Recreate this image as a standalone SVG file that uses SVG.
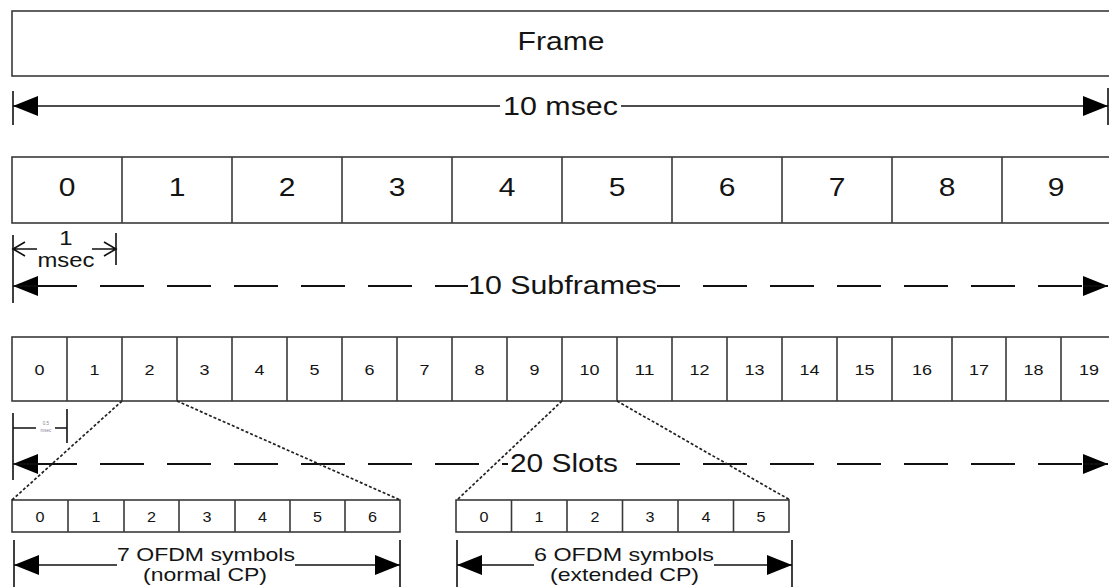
<svg xmlns="http://www.w3.org/2000/svg" width="1109" height="587" viewBox="0 0 1109 587">
  <style>
    text { font-family: "Liberation Sans", Arial, sans-serif; fill: #141414; text-anchor: middle; }
    .box { fill: #fff; stroke: #3a3a3a; stroke-width: 1.6; }
    .sep { stroke: #3a3a3a; stroke-width: 1.6; }
    .dim { stroke: #111; stroke-width: 1.6; fill: none; }
    .dash { stroke: #111; stroke-width: 2.2; fill: none; stroke-dasharray: 44 23; stroke-dashoffset: 47; }
    .dot { stroke: #222; stroke-width: 1.7; fill: none; stroke-dasharray: 3 2; }
    .big { font-size: 25px; }
    .mid { font-size: 19px; }
    .small { font-size: 15px; }
    .sym { font-size: 14px; }
    .tiny { font-size: 4.5px; fill: #8a7f99; }
  </style>
  <defs>
    <marker id="headEnd" viewBox="0 0 25 20" refX="25" refY="10" markerWidth="25" markerHeight="20" markerUnits="userSpaceOnUse" orient="auto">
      <path d="M0,0 L25,10 L0,20 Z" fill="#000"/>
    </marker>
    <marker id="headStart" viewBox="0 0 25 20" refX="0" refY="10" markerWidth="25" markerHeight="20" markerUnits="userSpaceOnUse" orient="auto">
      <path d="M25,0 L0,10 L25,20 Z" fill="#000"/>
    </marker>
  </defs>

  <!-- Frame -->
  <g id="frame">
    <rect class="box" x="12" y="11" width="1110" height="65"/>
    <text class="big" x="561" y="50" textLength="87" lengthAdjust="spacingAndGlyphs">Frame</text>
  </g>

  <!-- Subframes 0..9 -->
  <g id="subframes">
    <rect class="box" x="12" y="157" width="1110" height="66"/>
    <path class="sep" d="M122,157V223 M232,157V223 M342,157V223 M452,157V223 M562,157V223 M672,157V223 M782,157V223 M892,157V223 M1002,157V223"/>
    <g class="big">
      <text x="67" y="196" textLength="16.7" lengthAdjust="spacingAndGlyphs">0</text>
      <text x="177" y="196" textLength="16.7" lengthAdjust="spacingAndGlyphs">1</text>
      <text x="287" y="196" textLength="16.7" lengthAdjust="spacingAndGlyphs">2</text>
      <text x="397" y="196" textLength="16.7" lengthAdjust="spacingAndGlyphs">3</text>
      <text x="507" y="196" textLength="16.7" lengthAdjust="spacingAndGlyphs">4</text>
      <text x="617" y="196" textLength="16.7" lengthAdjust="spacingAndGlyphs">5</text>
      <text x="727" y="196" textLength="16.7" lengthAdjust="spacingAndGlyphs">6</text>
      <text x="837" y="196" textLength="16.7" lengthAdjust="spacingAndGlyphs">7</text>
      <text x="947" y="196" textLength="16.7" lengthAdjust="spacingAndGlyphs">8</text>
      <text x="1056" y="196" textLength="16.7" lengthAdjust="spacingAndGlyphs">9</text>
    </g>
  </g>

  <!-- Slots 0..19 -->
  <g id="slots">
    <rect class="box" x="12" y="337" width="1110" height="64"/>
    <path class="sep" d="M67,337V401 M122,337V401 M177,337V401 M232,337V401 M287,337V401 M342,337V401 M397,337V401 M452,337V401 M507,337V401 M562,337V401 M617,337V401 M672,337V401 M727,337V401 M782,337V401 M837,337V401 M892,337V401 M952,337V401 M1006,337V401 M1061,337V401"/>
    <g class="small">
      <text x="39.5" y="375" textLength="10" lengthAdjust="spacingAndGlyphs">0</text>
      <text x="94.5" y="375" textLength="10" lengthAdjust="spacingAndGlyphs">1</text>
      <text x="149.5" y="375" textLength="10" lengthAdjust="spacingAndGlyphs">2</text>
      <text x="204.5" y="375" textLength="10" lengthAdjust="spacingAndGlyphs">3</text>
      <text x="259.5" y="375" textLength="10" lengthAdjust="spacingAndGlyphs">4</text>
      <text x="314.5" y="375" textLength="10" lengthAdjust="spacingAndGlyphs">5</text>
      <text x="369.5" y="375" textLength="10" lengthAdjust="spacingAndGlyphs">6</text>
      <text x="424.5" y="375" textLength="10" lengthAdjust="spacingAndGlyphs">7</text>
      <text x="479.5" y="375" textLength="10" lengthAdjust="spacingAndGlyphs">8</text>
      <text x="534.5" y="375" textLength="10" lengthAdjust="spacingAndGlyphs">9</text>
      <text x="589.5" y="375" textLength="20" lengthAdjust="spacingAndGlyphs">10</text>
      <text x="644.5" y="375" textLength="20" lengthAdjust="spacingAndGlyphs">11</text>
      <text x="699.5" y="375" textLength="20" lengthAdjust="spacingAndGlyphs">12</text>
      <text x="754.5" y="375" textLength="20" lengthAdjust="spacingAndGlyphs">13</text>
      <text x="809.5" y="375" textLength="20" lengthAdjust="spacingAndGlyphs">14</text>
      <text x="864.5" y="375" textLength="20" lengthAdjust="spacingAndGlyphs">15</text>
      <text x="922" y="375" textLength="20" lengthAdjust="spacingAndGlyphs">16</text>
      <text x="979" y="375" textLength="20" lengthAdjust="spacingAndGlyphs">17</text>
      <text x="1033.5" y="375" textLength="20" lengthAdjust="spacingAndGlyphs">18</text>
      <text x="1089" y="375" textLength="20" lengthAdjust="spacingAndGlyphs">19</text>
    </g>
  </g>

  <!-- Symbols of one slot, normal CP -->
  <g id="symbols-normal">
    <rect class="box" x="12" y="500" width="388" height="32"/>
    <path class="sep" d="M68,500V532 M124,500V532 M179,500V532 M235,500V532 M290,500V532 M345,500V532"/>
    <g class="sym">
      <text x="40" y="522" textLength="9" lengthAdjust="spacingAndGlyphs">0</text>
      <text x="96" y="522" textLength="9" lengthAdjust="spacingAndGlyphs">1</text>
      <text x="151.5" y="522" textLength="9" lengthAdjust="spacingAndGlyphs">2</text>
      <text x="207" y="522" textLength="9" lengthAdjust="spacingAndGlyphs">3</text>
      <text x="262.5" y="522" textLength="9" lengthAdjust="spacingAndGlyphs">4</text>
      <text x="317.5" y="522" textLength="9" lengthAdjust="spacingAndGlyphs">5</text>
      <text x="372.5" y="522" textLength="9" lengthAdjust="spacingAndGlyphs">6</text>
    </g>
  </g>

  <!-- Symbols of one slot, extended CP -->
  <g id="symbols-extended">
    <rect class="box" x="456" y="500" width="333" height="32"/>
    <path class="sep" d="M511.5,500V532 M567,500V532 M622.5,500V532 M678,500V532 M733.5,500V532"/>
    <g class="sym">
      <text x="484" y="522" textLength="9" lengthAdjust="spacingAndGlyphs">0</text>
      <text x="539" y="522" textLength="9" lengthAdjust="spacingAndGlyphs">1</text>
      <text x="595" y="522" textLength="9" lengthAdjust="spacingAndGlyphs">2</text>
      <text x="650" y="522" textLength="9" lengthAdjust="spacingAndGlyphs">3</text>
      <text x="706" y="522" textLength="9" lengthAdjust="spacingAndGlyphs">4</text>
      <text x="761" y="522" textLength="9" lengthAdjust="spacingAndGlyphs">5</text>
    </g>
  </g>

  <!-- Dimension lines and expansion guides -->
  <g id="connectors">
    <!-- 10 msec -->
    <path class="dim" d="M13,91V125 M1108,88V125"/>
    <line class="dim" x1="13" y1="106" x2="1108" y2="106" marker-start="url(#headStart)" marker-end="url(#headEnd)"/>
    <rect x="500" y="94" width="121" height="24" fill="#fff"/>
    <text class="big" x="560.5" y="115" textLength="115" lengthAdjust="spacingAndGlyphs">10 msec</text>

    <!-- 1 msec -->
    <path class="dim" d="M13,235V303 M116,233V265"/>
    <path class="dim" d="M13,249H37 M25,242L13,249L25,256 M92,249H116 M104,242L116,249L104,256" stroke-width="1.3"/>
    <text x="66" y="245" font-size="20" textLength="13.3" lengthAdjust="spacingAndGlyphs">1</text>
    <text x="66" y="267" font-size="20" textLength="57" lengthAdjust="spacingAndGlyphs">msec</text>

    <!-- 10 Subframes -->
    <line class="dash" x1="13" y1="286" x2="1108" y2="286" marker-start="url(#headStart)" marker-end="url(#headEnd)"/>
    <line class="dim" x1="13" y1="286" x2="38" y2="286"/>
    <line class="dim" x1="1083" y1="286" x2="1108" y2="286"/>
    <rect x="468" y="273" width="189" height="26" fill="#fff"/>
    <text class="big" x="562.5" y="294" textLength="189" lengthAdjust="spacingAndGlyphs">10 Subframes</text>

    <!-- 0.5 msec -->
    <path class="dim" d="M13,413V480 M67,409V443 M13,428H36 M55,428H67" stroke-width="1.4"/>
    <text class="tiny" x="46" y="425">0.5</text>
    <text class="tiny" x="46" y="432">msec</text>

    <!-- 20 Slots -->
    <line class="dash" x1="13" y1="464" x2="1108" y2="464" marker-start="url(#headStart)" marker-end="url(#headEnd)"/>
    <line class="dim" x1="13" y1="464" x2="38" y2="464"/>
    <line class="dim" x1="1083" y1="464" x2="1108" y2="464"/>
    <rect x="508" y="451" width="118" height="26" fill="#fff"/>
    <text class="big" x="564" y="472" textLength="108" lengthAdjust="spacingAndGlyphs">20 Slots</text>

    <!-- expansion guides -->
    <path class="dot" d="M122,401L12,500 M177,401L400,500 M562,401L457,500 M617,401L790,500"/>

    <!-- 7 OFDM symbols -->
    <path class="dim" d="M14,540V587 M400,540V587"/>
    <line class="dim" x1="14" y1="565" x2="400" y2="565" marker-start="url(#headStart)" marker-end="url(#headEnd)"/>
    <rect x="117" y="545" width="178" height="42" fill="#fff"/>
    <text class="mid" x="206" y="561" textLength="178" lengthAdjust="spacingAndGlyphs">7 OFDM symbols</text>
    <text class="mid" x="205" y="581" textLength="124" lengthAdjust="spacingAndGlyphs">(normal CP)</text>

    <!-- 6 OFDM symbols -->
    <path class="dim" d="M457,540V587 M792,540V587"/>
    <line class="dim" x1="457" y1="565" x2="792" y2="565" marker-start="url(#headStart)" marker-end="url(#headEnd)"/>
    <rect x="534" y="545" width="180" height="42" fill="#fff"/>
    <text class="mid" x="624" y="561" textLength="180" lengthAdjust="spacingAndGlyphs">6 OFDM symbols</text>
    <text class="mid" x="624.5" y="581" textLength="149" lengthAdjust="spacingAndGlyphs">(extended CP)</text>
  </g>
</svg>
